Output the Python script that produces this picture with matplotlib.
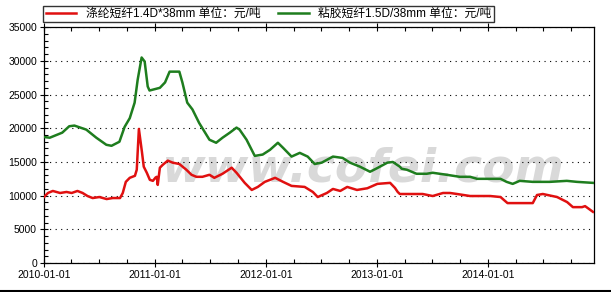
import matplotlib
matplotlib.use("Agg")
import matplotlib.pyplot as plt
import matplotlib.dates as mdates
import pandas as pd
import numpy as np

plt.rcParams['font.family'] = ['Liberation Sans', 'Noto Sans CJK SC', 'DejaVu Sans']

# polyester staple fibre 1.4D*38mm, yuan/ton
red_dates = ['2010-01-01', '2010-01-14', '2010-01-30', '2010-02-23', '2010-03-16', '2010-04-02',
             '2010-04-21', '2010-05-08', '2010-05-24', '2010-06-10', '2010-07-02', '2010-07-26',
             '2010-08-15', '2010-09-08', '2010-09-17', '2010-09-27', '2010-10-10', '2010-10-27',
             '2010-11-02', '2010-11-09', '2010-11-19', '2010-11-25', '2010-12-05', '2010-12-15',
             '2010-12-25', '2011-01-03', '2011-01-07', '2011-01-10', '2011-01-17',
             '2011-01-27', '2011-02-12', '2011-02-28', '2011-03-22', '2011-04-14', '2011-05-01',
             '2011-05-17', '2011-06-06', '2011-06-29', '2011-07-15', '2011-08-11', '2011-09-10',
             '2011-09-26', '2011-10-23', '2011-11-15', '2011-12-05', '2011-12-28', '2012-01-31',
             '2012-02-26', '2012-03-25', '2012-05-07', '2012-06-03', '2012-06-19', '2012-07-19',
             '2012-08-08', '2012-09-01', '2012-09-24', '2012-10-26', '2012-11-29',
             '2013-01-01', '2013-02-12', '2013-02-28', '2013-03-09', '2013-03-16', '2013-04-18',
             '2013-05-30', '2013-07-02', '2013-08-05', '2013-08-28', '2013-09-20', '2013-11-02',
             '2014-01-07', '2014-02-10', '2014-03-05', '2014-04-05', '2014-05-27', '2014-06-10',
             '2014-06-29', '2014-08-15', '2014-09-17', '2014-10-06', '2014-11-05', '2014-11-15',
             '2014-12-11']
red_vals = [9800, 10400, 10700, 10400, 10550, 10400,
            10700, 10400, 9950, 9650, 9800, 9500,
            9650, 9650, 10400, 12050, 12650, 12950,
            13850, 19900, 16500, 14300, 13400, 12350,
            12200, 12700, 12800, 11600, 14150,
            14600, 15200, 14900, 14700, 13850, 13100,
            12800, 12800, 13100, 12650, 13250, 14150,
            13400, 11900, 10850, 11300, 12050, 12650,
            12050, 11450, 11300, 10550, 9800, 10400,
            11000, 10700, 11300, 10850, 11100,
            11750, 11900, 11150, 10550, 10250, 10250,
            10250, 9950, 10400, 10400, 10250, 9950,
            9950, 9800, 8900, 8900, 8900, 10100,
            10250, 9800, 9050, 8300, 8300, 8450,
            7600]

# viscose staple fibre 1.5D/38mm, yuan/ton
green_dates = ['2010-01-01', '2010-01-20', '2010-03-02', '2010-03-25', '2010-04-11', '2010-05-20',
               '2010-06-22', '2010-07-25', '2010-08-11', '2010-09-06', '2010-09-23', '2010-10-10',
               '2010-10-26', '2010-11-05', '2010-11-18', '2010-11-28', '2010-12-08', '2010-12-14',
               '2011-01-17', '2011-02-03', '2011-02-18', '2011-03-22', '2011-04-01', '2011-04-17',
               '2011-05-04', '2011-05-26', '2011-06-29', '2011-07-21', '2011-08-11', '2011-09-04',
               '2011-09-26', '2011-10-06', '2011-10-29', '2011-11-25', '2011-12-21', '2012-01-14',
               '2012-02-09', '2012-02-26', '2012-03-25', '2012-04-21', '2012-05-17', '2012-06-09',
               '2012-07-02', '2012-08-08', '2012-09-09', '2012-10-03', '2012-11-05', '2012-12-08',
               '2013-01-01', '2013-02-03', '2013-02-21', '2013-03-16', '2013-03-22', '2013-04-08',
               '2013-05-10', '2013-06-12', '2013-07-02', '2013-08-17', '2013-09-29', '2013-11-02',
               '2013-11-25', '2014-01-07', '2014-02-10', '2014-03-02', '2014-03-22', '2014-04-14',
               '2014-05-27', '2014-07-22', '2014-09-16', '2014-10-19', '2014-12-11']
green_vals = [18700, 18600, 19350, 20300, 20400, 19800,
              18600, 17550, 17400, 18000, 20200, 21500,
              23800, 27200, 30500, 29900, 26200, 25600,
              26000, 26800, 28400, 28400, 26800, 23800,
              22800, 20800, 18300, 17850, 18600, 19350,
              20100, 19800, 18300, 15900, 16100, 16800,
              17850, 17100, 15800, 16350, 15800, 14700,
              14900, 15800, 15600, 14900, 14300, 13550,
              14100, 14900, 15000, 14300, 14000, 13850,
              13250, 13250, 13400, 13100, 12800, 12800,
              12500, 12500, 12500, 12050, 11750, 12200,
              12050, 12050, 12200, 12050, 11900]

red_label = '涤纶短纤1.4D*38mm 单位：元/吨'
green_label = '粘胶短纤1.5D/38mm 单位：元/吨'

fig = plt.figure(figsize=(6.11, 2.92), dpi=100)
ax = fig.add_axes([0.072, 0.099, 0.9, 0.808])

# watermark
ax.text(0.58, 0.40, 'www.cofei.com', transform=ax.transAxes, fontsize=34, fontweight='bold',
        style='italic', color='#d9d9d9', ha='center', va='center', zorder=0,
        family='DejaVu Sans')

ax.plot(pd.to_datetime(red_dates), red_vals, color='#e01010', lw=1.8, label=red_label, zorder=3)
ax.plot(pd.to_datetime(green_dates), green_vals, color='#1e7d1e', lw=1.8, label=green_label, zorder=3)

ax.set_ylim(0, 35000)
ax.set_xlim(pd.Timestamp('2010-01-01'), pd.Timestamp('2014-12-14'))
ax.set_yticks(np.arange(0, 35001, 5000))
ax.yaxis.set_minor_locator(matplotlib.ticker.MultipleLocator(1000))
ax.xaxis.set_major_locator(mdates.YearLocator())
ax.xaxis.set_minor_locator(mdates.MonthLocator(bymonth=[4, 7, 10]))
ax.xaxis.set_major_formatter(mdates.DateFormatter('%Y-%m-%d'))

ax.grid(axis='y', which='major', linestyle=(0, (1, 4)), color='black', lw=0.8)
ax.tick_params(which='major', direction='inout', length=6, width=0.8, labelsize=7.5,
               top=True, right=False, pad=2)
ax.tick_params(which='minor', direction='in', length=3, width=0.8, top=True)
for s in ax.spines.values():
    s.set_linewidth(0.9)

ax.legend(loc='lower left', bbox_to_anchor=(-0.001, 1.02), ncol=2, frameon=True, fancybox=False,
          edgecolor='black', fontsize=8.5, handlelength=2.6, handletextpad=0.8,
          columnspacing=1.5, borderpad=0.2, borderaxespad=0)

fig.add_artist(plt.Line2D([0, 1], [0.003, 0.003], color='black', lw=1.5))

fig.savefig('out.png', dpi=100)
